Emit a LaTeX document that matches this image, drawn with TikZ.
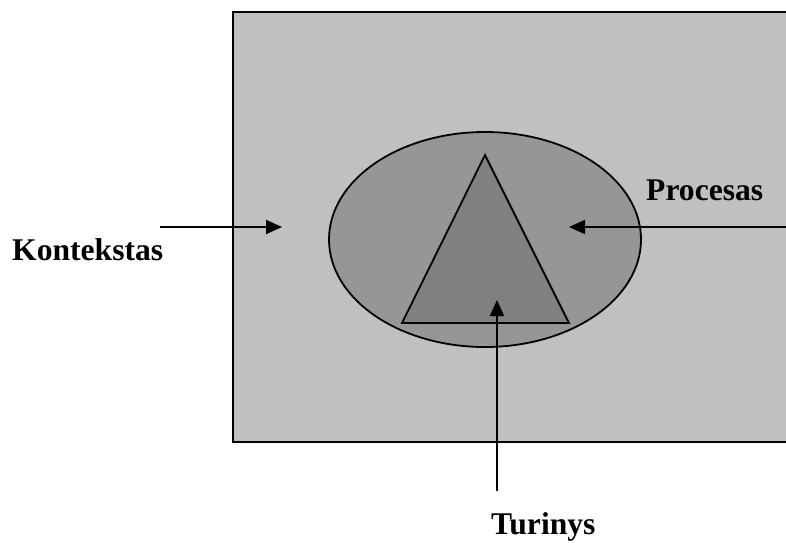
\documentclass[tikz,border=0pt]{standalone}
\usepackage{fontspec}
\setmainfont{Liberation Serif}
\usetikzlibrary{arrows.meta}
\definecolor{boxgray}{RGB}{192,192,192}
\definecolor{ellgray}{RGB}{150,150,150}
\definecolor{trigray}{RGB}{128,128,128}
\tikzset{
  lbl/.style={font=\fontsize{31.6}{36}\selectfont\bfseries, inner sep=0pt, anchor=base west},
  arr/.style={line width=1.8pt, -{Triangle[length=16pt,width=14pt]}},
}
\begin{document}
\begin{tikzpicture}[x=1pt,y=-1pt]
\useasboundingbox (0,0) rectangle (786,542);
\begin{scope}
\clip (0,0) rectangle (786,542);
\draw[line width=2.2pt, fill=boxgray] (233,12) rectangle (800,442);
\end{scope}
\draw[line width=1.8pt, fill=ellgray] (485,239.5) ellipse [x radius=156, y radius=107.5];
\draw[line width=1.8pt, fill=trigray, line join=miter] (485,155) -- (569,323) -- (402,323) -- cycle;
\node[lbl] (kon) at (12,260) {Kontekstas};
\node[lbl] (pro) at (646,200) {Procesas};
\node[lbl] (tur) at (491,534) {Turinys};
\coordinate (k1) at (160,227);
\coordinate (k2) at (282,227);
\coordinate (p1) at (786,227);
\coordinate (p2) at (569,227);
\coordinate (t1) at (497,491);
\coordinate (t2) at (497,300);
\draw[arr] (k1) -- (k2);
\draw[arr] (p1) -- (p2);
\draw[arr] (t1) -- (t2);
\end{tikzpicture}
\end{document}
